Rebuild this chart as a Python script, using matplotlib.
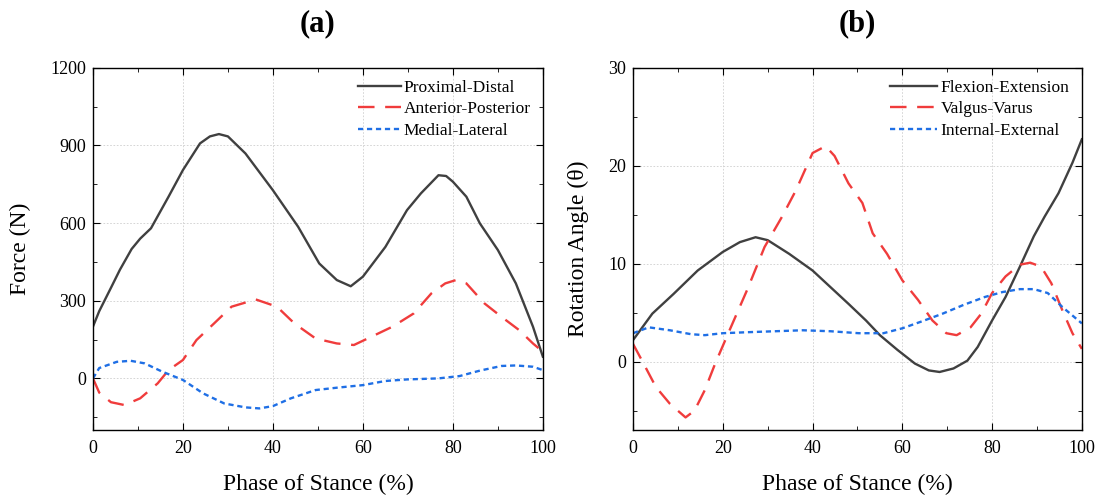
import numpy as np
import matplotlib
matplotlib.use('Agg')
import matplotlib.pyplot as plt
from matplotlib.ticker import MultipleLocator

plt.rcParams['font.family'] = ['Liberation Serif', 'DejaVu Serif']

# (a) forces
pd_x = [0, 1.4, 4, 6, 8.6, 10.5, 12.9, 16.8, 20, 23.8, 26, 28, 30, 33.9, 40, 45.6, 50.3, 54.2, 57.3,
        60, 65, 69.8, 72.9, 76.8, 78.5, 80, 83, 86, 90, 94, 97.8, 100]
pd_y = [200, 260, 350, 420, 500, 540, 580, 702, 805, 908, 935, 944, 935, 869, 727, 586, 444, 380, 356,
        393, 508, 650, 715, 785, 782, 760, 702, 599, 496, 367, 200, 84]
ap_x = [0, 1.4, 4, 7, 10.5, 14.4, 16.8, 20, 23, 26.9, 30.8, 36.2, 40.9, 44.8, 49.5, 54.2, 58, 61.9,
        66.6, 71.3, 75.2, 78.3, 80.7, 83, 87, 90.8, 94.7, 97.8, 100]
ap_y = [0, -55, -92, -103, -77, -19, 32, 71, 148, 212, 277, 305, 277, 212, 154, 135, 129, 161,
        200, 251, 328, 367, 380, 367, 290, 238, 187, 135, 103]
ml_x = [0, 1.4, 5.3, 8.4, 11.5, 15.4, 20, 24.5, 29.2, 33.9, 37, 40, 44, 49.5, 54.2, 60, 65, 69.8,
        76.8, 81.5, 86, 90.8, 94, 97.8, 100]
ml_y = [0, 40, 64, 68, 58, 26, -6, -58, -97, -112, -116, -107, -77, -45, -36, -26, -10, -4,
        0, 9, 30, 48, 50, 45, 32]

# (b) rotations
fe_x = [0, 4.3, 9, 14.4, 20, 23.8, 27.3, 30, 34.8, 40, 44, 48, 51.9, 55, 58.9, 62.8, 65.9, 68.3,
        71.4, 74.5, 76.8, 80, 83, 86.2, 89.3, 91.7, 94.8, 97.9, 100]
fe_y = [2.2, 4.9, 6.9, 9.3, 11.2, 12.2, 12.7, 12.4, 11.0, 9.3, 7.6, 5.9, 4.2, 2.7, 1.2, -0.2, -0.9, -1.06,
        -0.7, 0.1, 1.5, 4.2, 6.6, 9.7, 12.8, 14.8, 17.2, 20.3, 22.7]
vv_x = [0, 2, 5.1, 8.2, 11.7, 13.7, 16, 18.3, 21.5, 25.4, 29.3, 33.2, 36.3, 40, 42.9, 44.9, 48, 51.1,
        53.4, 56.6, 60, 63.5, 66.7, 69.8, 72.1, 75.2, 77.6, 80, 83, 86.2, 88.5, 90.9, 93.2, 95.6, 97.9, 100]
vv_y = [1.8, 0.1, -2.6, -4.3, -5.7, -5.0, -2.9, -0.2, 3.2, 7.3, 11.7, 14.8, 17.5, 21.3, 22.0, 21, 18.2, 16.2,
        13.1, 11.0, 8.3, 6.3, 4.2, 2.9, 2.7, 3.5, 4.9, 7.0, 8.7, 9.9, 10.1, 9.7, 8.0, 5.3, 2.9, 1.3]
ie_x = [0, 3.5, 8.2, 12.9, 16, 20, 25.4, 31.6, 37.8, 44, 50.3, 55.8, 60, 64.3, 69, 73.7, 78.4, 82.3,
        86.2, 89.3, 92.4, 95.6, 98.7, 100]
ie_y = [2.9, 3.5, 3.2, 2.8, 2.7, 2.9, 3.0, 3.1, 3.2, 3.1, 2.9, 2.9, 3.4, 4.1, 4.9, 5.8, 6.6, 7.1,
        7.4, 7.4, 7.0, 5.6, 4.4, 3.9]

black = '#404040'
red = '#f03c3c'
blue = '#1f6fe5'

fig = plt.figure(figsize=(11, 4.95), dpi=100)
ax1 = fig.add_axes([0.0845, 0.131, 0.409, 0.732])
ax2 = fig.add_axes([0.5755, 0.131, 0.408, 0.732])


def style(ax):
    ax.set_xlim(0, 100)
    ax.xaxis.set_major_locator(MultipleLocator(20))
    ax.xaxis.set_minor_locator(MultipleLocator(10))
    ax.tick_params(which='both', direction='in', top=True, right=True, labelsize=13)
    ax.tick_params(which='major', length=5)
    ax.tick_params(which='minor', length=3)
    ax.tick_params(axis='x', which='major', pad=7)
    ax.tick_params(axis='y', which='major', pad=5)
    ax.grid(True, which='major', color='#cfcfcf', linestyle=(0, (2, 2)), linewidth=0.6)
    ax.set_axisbelow(True)
    ax.set_xlabel('Phase of Stance (%)', fontsize=17, labelpad=12)
    for s in ax.spines.values():
        s.set_linewidth(1.0)


ax1.plot(pd_x, pd_y, color=black, lw=1.7, label='Proximal-Distal')
ax1.plot(ap_x, ap_y, color=red, lw=1.7, dashes=(7, 4.5), label='Anterior-Posterior')
ax1.plot(ml_x, ml_y, color=blue, lw=1.7, dashes=(2.2, 1.6), label='Medial-Lateral')
style(ax1)
ax1.set_ylim(-200, 1200)
ax1.yaxis.set_major_locator(MultipleLocator(300))
ax1.yaxis.set_minor_locator(MultipleLocator(150))
ax1.set_ylabel('Force (N)', fontsize=17, labelpad=14)
ax1.set_title('(a)', fontsize=22, fontweight='bold', pad=26)
ax1.legend(loc='upper right', frameon=False, fontsize=12.5, handlelength=2.5,
           handletextpad=0.15, labelspacing=0.3, borderaxespad=0.3)

ax2.plot(fe_x, fe_y, color=black, lw=1.7, label='Flexion-Extension')
ax2.plot(vv_x, vv_y, color=red, lw=1.7, dashes=(7, 4.5), label='Valgus-Varus')
ax2.plot(ie_x, ie_y, color=blue, lw=1.7, dashes=(2.2, 1.6), label='Internal-External')
style(ax2)
ax2.set_ylim(-7, 30)
ax2.yaxis.set_major_locator(MultipleLocator(10))
ax2.yaxis.set_minor_locator(MultipleLocator(5))
ax2.set_ylabel('Rotation Angle (θ)', fontsize=17, labelpad=14)
ax2.set_title('(b)', fontsize=22, fontweight='bold', pad=26)
ax2.legend(loc='upper right', frameon=False, fontsize=12.5, handlelength=2.7,
           handletextpad=0.2, labelspacing=0.3, borderaxespad=0.3)

fig.savefig('out.png', dpi=100)
